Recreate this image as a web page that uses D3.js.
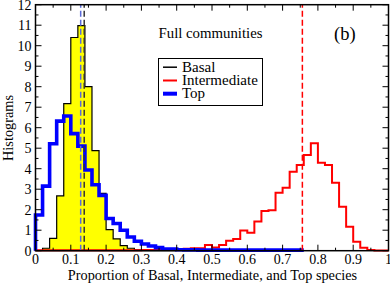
<!DOCTYPE html>
<html><head><meta charset="utf-8">
<script src="https://cdn.jsdelivr.net/npm/d3@7"></script>
<style>body{margin:0;background:#fff}svg{display:block}text{font-family:"Liberation Serif","Times New Roman",serif;fill:#000}</style>
</head><body><svg id="c" width="390" height="283"></svg>
<script>
// bins of width 0.02 starting at 0
const binWidth = 0.02;
const basalValues = [0.0,0.12,0.6,2.67,7.17,10.4,10.98,8.0,4.88,2.8,1.03,0.58,0.25,0.12,0.04,0.01,0,0,0,0];
const intermediateValues = [0.02,0.02,0.02,0.02,0.02,0.02,0.02,0.02,0.02,0.02,0.02,0.02,0.02,0.02,0.02,0.03,0.03,0.04,0.04,0.04,
  0.06,0.1,0.12,0.12,0.28,0.16,0.28,0.49,0.57,0.98,0.88,1.42,1.94,1.97,2.83,3.07,3.85,4.18,4.67,5.24,
  4.29,4.18,3.32,2.15,1.17,0.44,0.15,0.03,0.01,0.01];
const topValues = [1.74,3.15,5.22,6.32,6.57,5.71,5.1,3.94,3.22,2.7,1.57,1.33,1.0,0.67,0.46,0.33,0.23,0.15,0.08,0.08,
  0.05,0.04,0.04,0.03,0.03,0.03,0.03,0.03,0.03,0.03,0.03,0.03,0.03,0.03,0.03,0.03,0.03,0.03];
const meanLines = [{v:0.128,c:"#5a6ad8"},{v:0.138,c:"#333"},{v:0.756,c:"#ff0000"}];
const xTicks = [0,0.1,0.2,0.3,0.4,0.5,0.6,0.7,0.8,0.9,1];
const xTickLabels = ["0","0.1","0.2","0.3","0.4","0.5","0.6","0.7","0.8","0.9","1"];
const yTicks = d3.range(0,13);
const legendItems = [{name:"Basal",c:"#000",w:1.5},{name:"Intermediate",c:"#ff0000",w:2},{name:"Top",c:"#0000ff",w:4}];

const svg = d3.select("#c");
const L=35.5,R=388.5,T=4.7,B=250.7;
const x = d3.scaleLinear().domain([0,1]).range([L,R]);
const y = d3.scaleLinear().domain([0,12]).range([B,T]);

function stepPts(vals){
  const pts=[[0,0]];
  vals.forEach((v,i)=>{pts.push([i*binWidth,v]);pts.push([(i+1)*binWidth,v]);});
  pts.push([vals.length*binWidth,0]);
  return pts;
}
const line = d3.line().x(d=>x(d[0])).y(d=>y(d[1]));

// basal filled
svg.append("path").attr("d",line(stepPts(basalValues))+"Z").attr("fill","#ffff00").attr("stroke","#000").attr("stroke-width",1.2);
// intermediate
const ip = stepPts(intermediateValues); ip.pop();
svg.append("path").attr("d",line(ip)).attr("fill","none").attr("stroke","#ff0000").attr("stroke-width",2);
// top
const tp = stepPts(topValues); tp.pop();
svg.append("path").attr("d",line(tp)).attr("fill","none").attr("stroke","#0000ff").attr("stroke-width",3.6);

// mean dashed lines
meanLines.forEach(m=>{
  svg.append("line").attr("x1",x(m.v)).attr("x2",x(m.v)).attr("y1",y(0)).attr("y2",y(12))
    .attr("stroke",m.c).attr("stroke-width",1.5).attr("stroke-dasharray","6,3");
});

// frame
svg.append("rect").attr("x",L).attr("y",T).attr("width",R-L).attr("height",B-T).attr("fill","none").attr("stroke","#000").attr("stroke-width",1.5);

// ticks inward
const g = svg.append("g").attr("stroke","#000").attr("stroke-width",1);
d3.range(0,1.0001,0.05).forEach((v,i)=>{
  const len = i%2===0?6:3;
  g.append("line").attr("x1",x(v)).attr("x2",x(v)).attr("y1",B).attr("y2",B-len);
  g.append("line").attr("x1",x(v)).attr("x2",x(v)).attr("y1",T).attr("y2",T+len);
});
d3.range(0,12.0001,0.5).forEach((v,i)=>{
  const len = i%2===0?6:3;
  g.append("line").attr("y1",y(v)).attr("y2",y(v)).attr("x1",L).attr("x2",L+len);
  g.append("line").attr("y1",y(v)).attr("y2",y(v)).attr("x1",R).attr("x2",R-len);
});

// tick labels
xTicks.forEach((v,i)=>{
  svg.append("text").attr("x",x(v)).attr("y",263.5).attr("text-anchor","middle").attr("font-size",14).text(xTickLabels[i]);
});
yTicks.forEach(v=>{
  svg.append("text").attr("x",31.5).attr("y",y(v)+4.8).attr("text-anchor","end").attr("font-size",14).text(v);
});

// axis titles
svg.append("text").attr("x",(L+R)/2+0.5).attr("y",279.5).attr("text-anchor","middle").attr("font-size",14.3).text("Proportion of Basal, Intermediate, and Top species");
svg.append("text").attr("transform","translate(12.5,128) rotate(-90)").attr("text-anchor","middle").attr("font-size",14.3).text("Histograms");

// annotations
svg.append("text").attr("x",158.5).attr("y",37.5).attr("font-size",14.8).text("Full communities");
svg.append("text").attr("x",334).attr("y",40).attr("font-size",18.5).text("(b)");

// legend
svg.append("rect").attr("x",158.5).attr("y",58.5).attr("width",104).attr("height",47).attr("fill","#fff").attr("stroke","#000").attr("stroke-width",1);
const base=[71.5,84.8,98];
legendItems.forEach((d,i)=>{
  svg.append("line").attr("x1",163).attr("x2",177).attr("y1",base[i]-4.3).attr("y2",base[i]-4.3).attr("stroke",d.c).attr("stroke-width",d.w);
  svg.append("text").attr("x",182).attr("y",base[i]).attr("font-size",15).text(d.name);
});
</script></body></html>
